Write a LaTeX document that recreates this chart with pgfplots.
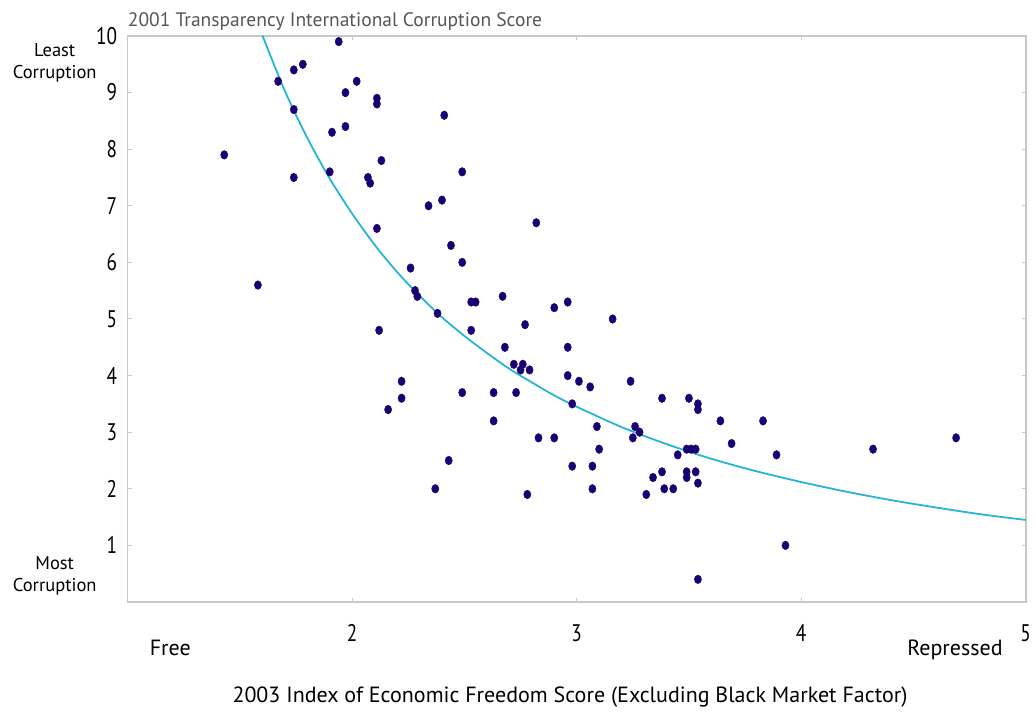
\documentclass[border=0pt]{standalone}
\usepackage{pgfplots}
\pgfplotsset{compat=1.18}
\usepackage{fontspec}
\setmainfont{PT Sans}
\definecolor{navy}{RGB}{25,0,115}
\definecolor{fitcyan}{RGB}{40,180,215}
\definecolor{framegray}{RGB}{200,200,200}
\definecolor{titlegray}{RGB}{85,85,85}
\begin{document}
\begin{tikzpicture}
\path[use as bounding box] (-127.7pt,-118pt) rectangle (908.3pt,602pt);
\begin{axis}[
  scale only axis,
  width=898pt, height=566pt,
  xmin=1, xmax=5, ymin=0, ymax=10,
  xtick={2,3,4,5}, ytick={1,2,3,4,5,6,7,8,9,10},
  axis line style={framegray, line width=1.6pt},
  tick style={framegray, line width=1pt},
  tick align=inside, major tick length=4pt,
  /pgf/number format/assume math mode=true,
  ticklabel style={font=\fontsize{24}{26}\selectfont, text=black, xscale=0.8},
  yticklabel style={inner sep=0pt, xshift=-13pt},
  xticklabel style={inner sep=0pt, yshift=-22pt},
  clip=false,
]
\addplot[fitcyan, line width=1.8pt, smooth] coordinates {
(1.6,10.01)(1.7,9.03)(1.8,8.20)(1.9,7.48)(2.0,6.86)(2.1,6.31)(2.2,5.83)
(2.3,5.41)(2.4,5.03)(2.5,4.70)(2.6,4.40)(2.7,4.12)(2.8,3.88)(2.9,3.65)
(3.0,3.45)(3.2,3.09)(3.4,2.79)(3.6,2.53)(3.8,2.31)(4.0,2.12)(4.2,1.95)
(4.4,1.80)(4.6,1.67)(4.8,1.55)(5.0,1.45)};
\addplot[only marks, mark=*, mark size=3.6pt, mark options={fill=navy, draw=navy, yscale=1.2}] coordinates {
(1.43,7.9)(1.58,5.6)(1.67,9.2)(1.74,9.4)(1.78,9.5)(1.74,8.7)(1.74,7.5)
(1.91,8.3)(1.90,7.6)(1.94,9.9)(1.97,9.0)(1.97,8.4)(2.02,9.2)(2.11,8.9)(2.11,8.8)
(2.07,7.5)(2.08,7.4)(2.13,7.8)(2.11,6.6)(2.12,4.8)(2.16,3.4)(2.22,3.6)(2.22,3.9)
(2.26,5.9)(2.28,5.5)(2.29,5.4)(2.34,7.0)(2.40,7.1)(2.41,8.6)(2.44,6.3)(2.38,5.1)
(2.37,2.0)(2.43,2.5)(2.49,6.0)(2.49,7.6)(2.49,3.7)(2.55,5.3)(2.53,5.3)(2.53,4.8)
(2.67,5.4)(2.68,4.5)(2.63,3.7)(2.63,3.2)(2.72,4.2)(2.76,4.2)(2.75,4.1)(2.79,4.1)
(2.73,3.7)(2.77,4.9)(2.78,1.9)(2.82,6.7)(2.83,2.9)(2.90,5.2)(2.90,2.9)(2.96,5.3)
(2.96,4.5)(2.96,4.0)(2.98,3.5)(2.98,2.4)(3.01,3.9)(3.06,3.8)(3.07,2.4)(3.07,2.0)
(3.09,3.1)(3.10,2.7)(3.16,5.0)(3.24,3.9)(3.26,3.1)(3.28,3.0)(3.25,2.9)(3.31,1.9)
(3.34,2.2)(3.38,2.3)(3.38,3.6)(3.39,2.0)(3.43,2.0)(3.45,2.6)(3.49,2.7)(3.51,2.7)
(3.53,2.7)(3.50,3.6)(3.49,2.3)(3.49,2.2)(3.53,2.3)(3.54,3.5)(3.54,3.4)(3.54,2.1)
(3.54,0.4)(3.64,3.2)(3.69,2.8)(3.83,3.2)(3.89,2.6)(3.93,1.0)(4.32,2.7)(4.69,2.9)};
\node[anchor=base west, inner sep=0pt, text=titlegray, font=\fontsize{19.5}{21}\selectfont] at ([yshift=9pt]rel axis cs:0,1) {2001 Transparency International Corruption Score};
\node[align=center, inner sep=0pt, font=\fontsize{18.5}{22}\selectfont] at ([xshift=-73pt]axis cs:1,9.52) {Least\\Corruption};
\node[align=center, inner sep=0pt, font=\fontsize{18.5}{22}\selectfont] at ([xshift=-73pt]axis cs:1,0.46) {Most\\Corruption};
\node[inner sep=0pt, font=\fontsize{22}{24}\selectfont] at ([yshift=-46pt]axis cs:1.19,0) {Free};
\node[inner sep=0pt, font=\fontsize{22}{24}\selectfont] at ([yshift=-48pt]axis cs:4.685,0) {Repressed};
\node[inner sep=0pt, font=\fontsize{22}{24}\selectfont] at ([yshift=-95pt]axis cs:2.97,0) {2003 Index of Economic Freedom Score (Excluding Black Market Factor)};
\end{axis}
\end{tikzpicture}
\end{document}
